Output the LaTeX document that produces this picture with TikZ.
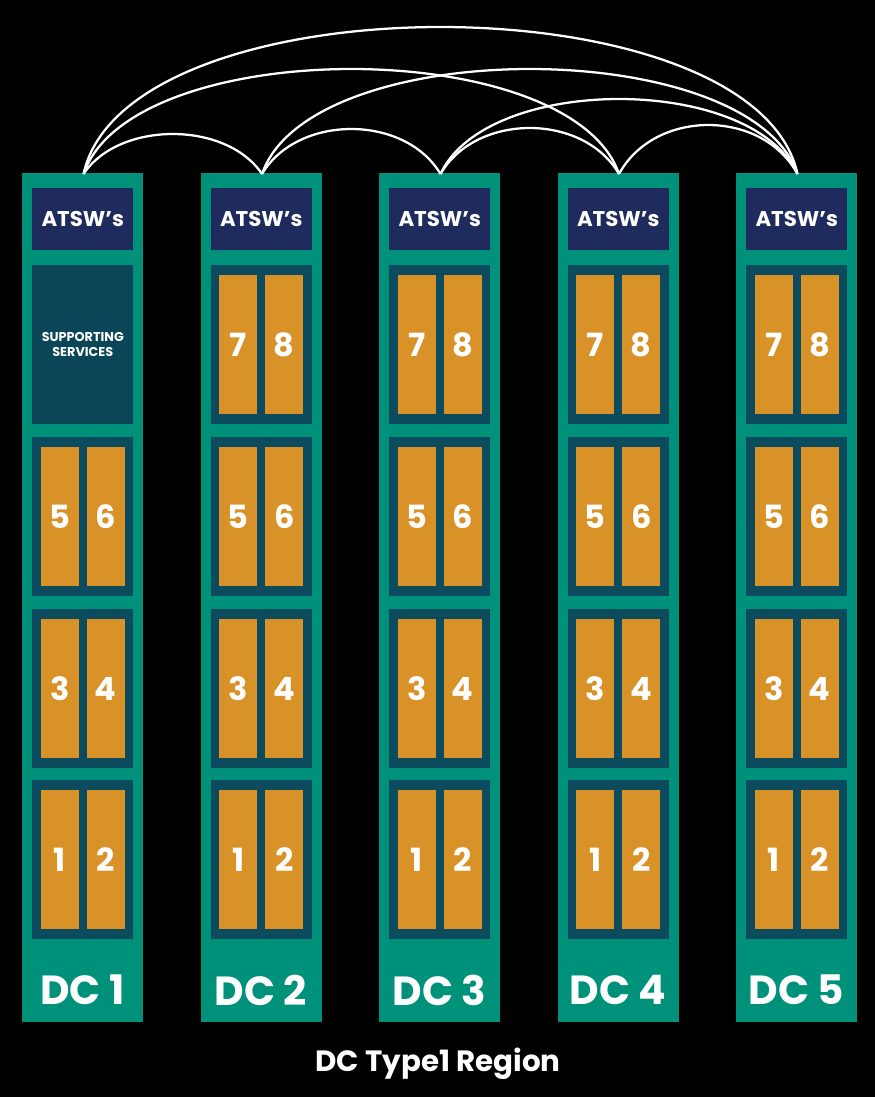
\documentclass[tikz,border=0pt]{standalone}
\usepackage{fontspec}
\setmainfont{Poppins}
\usetikzlibrary{calc}
\definecolor{tealc}{RGB}{0,145,122}
\definecolor{navyc}{RGB}{30,43,92}
\definecolor{panelc}{RGB}{12,74,94}
\definecolor{suppc}{RGB}{10,70,88}
\definecolor{orangec}{RGB}{216,146,40}
\tikzset{
  dccol/.style={fill=tealc, draw=none},
  atswbox/.style={fill=navyc, draw=none, text=white, font=\bfseries\fontsize{16}{17}\selectfont},
  panelbox/.style={fill=panelc, draw=none},
  suppbox/.style={fill=suppc, draw=none, text=white, align=center, font=\bfseries\fontsize{9.6}{11.3}\selectfont},
  cellbox/.style={fill=orangec, draw=none, text=white, font=\bfseries\fontsize{24}{25}\selectfont},
  dclabel/.style={text=white, font=\bfseries\fontsize{30.5}{32}\selectfont},
  titlelabel/.style={text=white, font=\bfseries\fontsize{22}{23}\selectfont},
  link/.style={draw=white, line width=1.7pt}
}
\begin{document}
\begin{tikzpicture}[x=0.75pt, y=-0.75pt]
\fill[black] (0,0) rectangle (875,1097);
\useasboundingbox (0,0) rectangle (875,1097);
\foreach \i/\L in {1/22, 2/200.5, 3/379, 4/557.5, 5/736} {
  % column
  \path[dccol] (\L,173) rectangle ++(121,849);
  \coordinate (t\i) at ($(\L,174)+(61.5,0)$);
  % ATSW
  \node[atswbox, minimum width=101*0.75pt, minimum height=62*0.75pt, inner sep=0pt, anchor=north west] (atsw\i) at (\L+10,188) {ATSW’s};
  % DC label
  \node[dclabel, anchor=center] (dc\i) at (\L+60.5,990) {DC \i};
}
% panels
\foreach \i/\L in {1/22, 2/200.5, 3/379, 4/557.5, 5/736} {
  \foreach \r/\T/\a/\b in {1/780/1/2, 2/609/3/4, 3/437/5/6, 4/265/7/8} {
    \ifnum\i=1 \ifnum\r=4
      \node[suppbox, minimum width=101*0.75pt, minimum height=159*0.75pt, inner sep=0pt, anchor=north west] (supp) at (\L+10,\T) {SUPPORTING\\SERVICES};
    \else
      \path[panelbox] (\L+10,\T) rectangle ++(101,159);
      \node[cellbox, minimum width=38*0.75pt, minimum height=139*0.75pt, inner sep=0pt, anchor=north west] (c\i-\a) at (\L+18.5,\T+10) {\a};
      \node[cellbox, minimum width=38*0.75pt, minimum height=139*0.75pt, inner sep=0pt, anchor=north west] (c\i-\b) at (\L+64.5,\T+10) {\b};
    \fi
    \else
      \path[panelbox] (\L+10,\T) rectangle ++(101,159);
      \node[cellbox, minimum width=38*0.75pt, minimum height=139*0.75pt, inner sep=0pt, anchor=north west] (c\i-\a) at (\L+18.5,\T+10) {\a};
      \node[cellbox, minimum width=38*0.75pt, minimum height=139*0.75pt, inner sep=0pt, anchor=north west] (c\i-\b) at (\L+64.5,\T+10) {\b};
    \fi
  }
}
% links
\foreach \a/\b/\h/\k in {1/2/40/0.2, 2/3/45/0.2, 3/4/46/0.2, 4/5/49/0.2, 3/5/75/0.13, 1/4/105/0.09, 2/5/105/0.09, 1/5/147/0.06} {
  \draw[link] (t\a) .. controls ($(t\a)+(\k*178*\b-\k*178*\a,-1.3333*\h)$) and ($(t\b)+(-\k*178*\b+\k*178*\a,-1.3333*\h)$) .. (t\b);
}
\node[titlelabel] (title) at (438,1064) {DC Type1 Region};
\end{tikzpicture}
\end{document}
